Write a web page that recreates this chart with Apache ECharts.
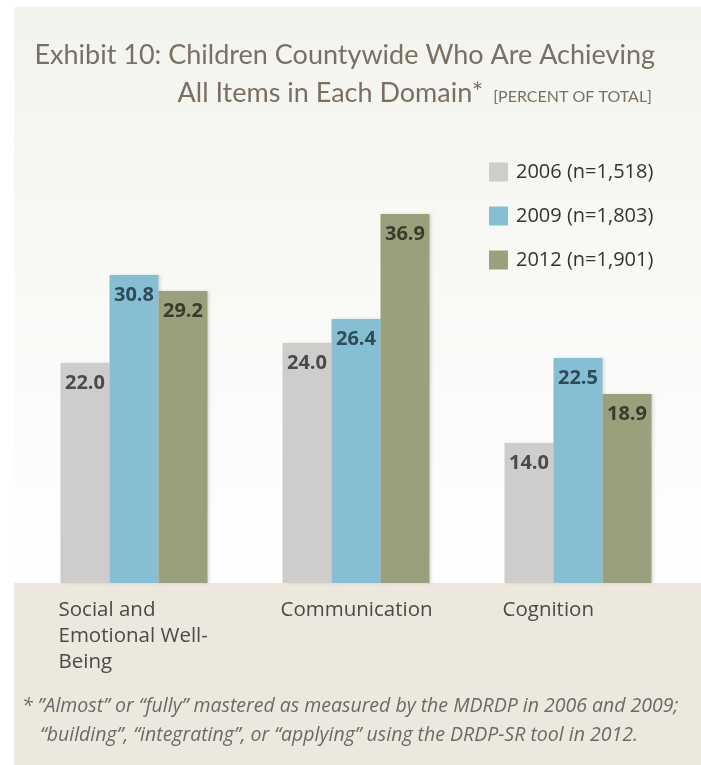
<!DOCTYPE html>
<html>
<head>
<meta charset="utf-8">
<script src="https://cdn.jsdelivr.net/npm/echarts@6/dist/echarts.min.js"></script>
<style>
html,body{margin:0;padding:0;background:#ffffff;}
#chart{width:701px;height:765px;}
</style>
</head>
<body>
<div id="chart"></div>
<script>
const categories = ['Social and Emotional Well-Being', 'Communication', 'Cognition'];
const seriesNames = ['2006 (n=1,518)', '2009 (n=1,803)', '2012 (n=1,901)'];
const values2006 = [22.0, 24.0, 14.0];
const values2009 = [30.8, 26.4, 22.5];
const values2012 = [29.2, 36.9, 18.9];
const titleLine1 = 'Exhibit 10: Children Countywide Who Are Achieving';
const titleLine2 = 'All Items in Each Domain*';
const titleUnit = '[PERCENT OF TOTAL]';
const footnote1 = '* \u201dAlmost\u201d or \u201cfully\u201d mastered as measured by the MDRDP in 2006 and 2009;';
const footnote2 = '\u201cbuilding\u201d, \u201cintegrating\u201d, or \u201capplying\u201d using the DRDP-SR tool in 2012.';

const barColors = ['#cfcdcb', '#86bfd3', '#9a9f7c'];
const labelColors = ['#4a4a4c', '#2e4b56', '#393c2d'];
const allValues = [values2006, values2009, values2012];

const chart = echarts.init(document.getElementById('chart'), null, {renderer: 'canvas'});

const series = allValues.map((vals, i) => ({
  name: seriesNames[i],
  type: 'bar',
  data: vals,
  barWidth: 49,
  barGap: '0%',
  itemStyle: {
    color: barColors[i],
    shadowColor: 'rgba(0,0,0,0.12)',
    shadowBlur: 3,
    shadowOffsetX: 2
  },
  label: {
    show: true,
    position: 'insideTop',
    distance: 10,
    formatter: p => p.value.toFixed(1),
    color: labelColors[i],
    fontFamily: 'Open Sans',
    fontWeight: 'bold',
    fontSize: 20
  },
  emphasis: {disabled: true}
}));

const option = {
  animation: false,
  title: [
    {
      text: titleLine1,
      right: 41,
      top: 37,
      textStyle: {fontFamily: 'Lato', fontSize: 27, fontWeight: 'normal', color: '#7b6f62'}
    },
    {
      text: '{a|' + titleLine2 + '}  {b|' + titleUnit + '}',
      right: 44,
      top: 75,
      textStyle: {
        fontWeight: 'normal',
        rich: {
          a: {fontFamily: 'Lato', fontSize: 27, fontWeight: 'normal', color: '#7b6f62'},
          b: {fontFamily: 'Lato', fontSize: 16, fontWeight: 'normal', color: '#7b6f62', verticalAlign: 'bottom', padding: [0,0,2,0]}
        }
      }
    }
  ],
  legend: {
    orient: 'vertical',
    left: 484,
    top: 157,
    itemWidth: 19,
    itemHeight: 19,
    itemGap: 24,
    icon: 'rect',
    data: seriesNames,
    textStyle: {fontFamily: 'Open Sans', fontSize: 20, color: '#333333', padding: [0,0,0,3]},
    selectedMode: false
  },
  grid: {left: 23, right: 12, top: 183, bottom: 182},
  xAxis: {
    type: 'category',
    data: categories,
    axisLine: {show: false},
    axisTick: {show: false},
    axisLabel: {show: false}
  },
  yAxis: {
    type: 'value',
    min: 0,
    max: 40,
    show: false,
    splitLine: {show: false}
  },
  graphic: [
    {
      type: 'rect', id: 'topPanel', z: -10, silent: true,
      shape: {x: 14, y: 7, width: 687, height: 576},
      style: {fill: new echarts.graphic.LinearGradient(0, 0, 0, 1, [
        {offset: 0, color: '#f3f3ee'},
        {offset: 1, color: '#ffffff'}
      ])}
    },
    {
      type: 'rect', id: 'bottomPanel', z: -10, silent: true,
      shape: {x: 14, y: 583, width: 687, height: 182},
      style: {fill: '#ece8de'}
    },
    {
      type: 'text', id: 'foot1', silent: true,
      x: 22, y: 706,
      style: {text: footnote1, fontFamily: 'Open Sans', fontStyle: 'italic', fontSize: 19.5, fill: '#6a6a6a', verticalAlign: 'middle'}
    },
    {
      type: 'text', id: 'foot2', silent: true,
      x: 40, y: 735,
      style: {text: footnote2, fontFamily: 'Open Sans', fontStyle: 'italic', fontSize: 19.5, fill: '#6a6a6a', verticalAlign: 'middle'}
    }
  ],
  series: series
};

chart.setOption(option);

function wrapCategory(c) {
  return c.replace('and ', 'and\n').replace('Well-', 'Well-\n');
}
const groupHalf = 49 * 1.5;
const catGraphics = categories.map((c, i) => {
  const px = chart.convertToPixel({xAxisIndex: 0}, c);
  return {
    type: 'text', id: 'cat' + i, silent: true,
    x: px - groupHalf - 2, y: 597,
    style: {text: wrapCategory(c), fontFamily: 'Open Sans', fontSize: 20.5, lineHeight: 26, fill: '#4a4a4a', align: 'left', verticalAlign: 'top'}
  };
});
chart.setOption({graphic: catGraphics});
</script>
</body>
</html>
